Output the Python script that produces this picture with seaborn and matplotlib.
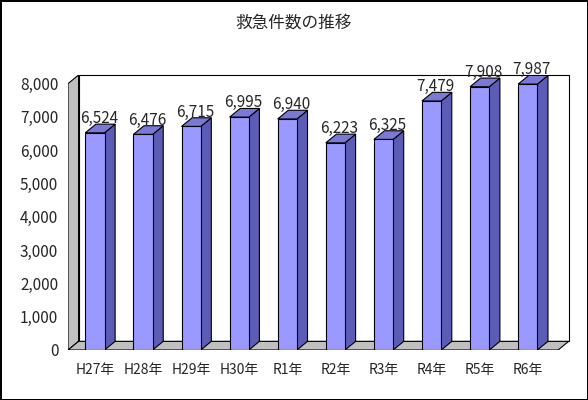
import matplotlib
matplotlib.use("Agg")
import matplotlib.pyplot as plt
import seaborn as sns
import pandas as pd
from matplotlib.patches import Polygon, Rectangle

sns.set_style("white")
plt.rcParams['font.family'] = ['Noto Sans CJK JP', 'DejaVu Sans']

years = ["H27年", "H28年", "H29年", "H30年", "R1年", "R2年", "R3年", "R4年", "R5年", "R6年"]
counts = [6524, 6476, 6715, 6995, 6940, 6223, 6325, 7479, 7908, 7987]
df = pd.DataFrame({"year": years, "count": counts})

DX, DY = 0.22, 260  # depth offset of the 3D effect

fig = plt.figure(figsize=(5.88, 4.0), dpi=100)
fig.patch.set_edgecolor("black")
fig.patch.set_linewidth(2)
ax = fig.add_axes([68 / 588, 50 / 400, 505 / 588, 275 / 400])

# walls and floor
ax.add_patch(Rectangle((-0.56 + DX, DY), 10.19, 8000, facecolor="white", edgecolor="black", lw=0.8,
                       zorder=0, clip_on=False))
ax.add_patch(Polygon([(-0.56, 0), (-0.56 + DX, DY), (-0.56 + DX, 8000 + DY), (-0.56, 8000)],
                     facecolor="#c0c0c0", edgecolor="black", lw=0.8, zorder=0))
ax.add_patch(Polygon([(-0.56, 0), (9.63, 0), (9.63 + DX, DY), (-0.56 + DX, DY)],
                     facecolor="#c0c0c0", edgecolor="black", lw=0.8, zorder=0))

sns.barplot(data=df, x="year", y="count", color="#9999ff", saturation=1, width=0.4,
            edgecolor="black", linewidth=0.8, ax=ax, zorder=3)

for p, v in zip(ax.patches[3:], counts):
    x0, w, h = p.get_x(), p.get_width(), p.get_height()
    ax.add_patch(Polygon([(x0 + w, 0), (x0 + w + DX, DY), (x0 + w + DX, h + DY), (x0 + w, h)],
                         facecolor="#5c5cb8", edgecolor="black", lw=0.8, zorder=2))
    ax.add_patch(Polygon([(x0, h), (x0 + DX, h + DY), (x0 + w + DX, h + DY), (x0 + w, h)],
                         facecolor="#7a7ad6", edgecolor="black", lw=0.8, zorder=2))
    ax.text(x0 + w / 2 + 0.08, h + 170, f"{v:,}", ha="center", va="bottom", fontsize=11,
            zorder=5, clip_on=False)

ax.set_xlim(-0.56, 9.94)
ax.set_ylim(0, 8000 + DY)
ax.set_yticks(range(0, 8001, 1000))
ax.set_yticklabels([f"{t:,}" for t in range(0, 8001, 1000)], fontsize=11)
ax.tick_params(axis="x", labelsize=10, pad=6)
ax.set_xlabel("")
ax.set_ylabel("")
for s in ax.spines.values():
    s.set_visible(False)

fig.text(0.5, 0.93, "救急件数の推移", ha="center", fontsize=12)
fig.savefig("out.png", dpi=100, edgecolor=fig.get_edgecolor())
